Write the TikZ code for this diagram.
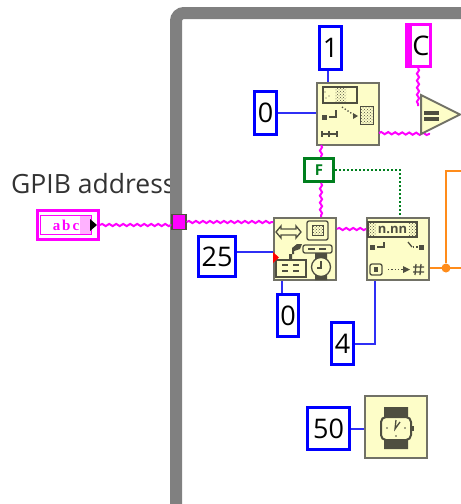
\documentclass[tikz,border=0pt]{standalone}
\usepackage{fontspec}
\setmainfont{Open Sans}
\newfontfamily\ctlfont{Liberation Serif}
\usetikzlibrary{decorations.pathmorphing,shapes.geometric,patterns}
\definecolor{iconbg}{HTML}{FDFDC8}
\definecolor{icondk}{HTML}{4E4E40}
\definecolor{framegray}{HTML}{808080}
\definecolor{wirepink}{HTML}{FF00FF}
\definecolor{wireblue}{HTML}{2F2FF5}
\definecolor{wireorange}{HTML}{FF8C1A}
\definecolor{boolgreen}{HTML}{007F1E}
\tikzset{
    numconst/.style={draw=blue,fill=white,line width=3.5pt,inner sep=0pt,font=\fontsize{27}{27}\selectfont},
    funcblock/.style={draw=icondk!80,fill=iconbg,line width=2pt,inner sep=0pt,minimum width=62pt,minimum height=62pt},
    strwire/.style={wirepink,line width=2pt,decorate,decoration={snake,amplitude=1.1pt,segment length=7pt}},
    numwire/.style={wireblue,line width=2pt},
    boolwire/.style={boolgreen,line width=2pt,dotted},
    orangewire/.style={wireorange,line width=2pt},
    icon/.style={icondk,line width=1.3pt},
    patch/.style={draw=icondk,pattern=crosshatch dots,pattern color=icondk,line width=1pt}
}
\begin{document}
\begin{tikzpicture}[x=1pt,y=-1pt]
    \useasboundingbox (0,0) rectangle (461,504);
    \clip (0,0) rectangle (461,504);
    \fill[white] (0,0) rectangle (461,504);

    \node[anchor=base west,inner sep=0pt,text=black!80,font=\fontsize{26.5}{27}\selectfont] (gpiblabel) at (11,193) {GPIB address};

    % structure frame
    \draw[framegray,line width=12pt,rounded corners=8pt] (461,13) -- (176,13) -- (176,504);

    % constants
    \node[numconst,minimum width=22pt,minimum height=43pt] (numone) at (330.5,48) {1};
    \node[numconst,minimum width=22pt,minimum height=43pt] (numzero) at (265.5,113) {0};
    \node[numconst,minimum width=37pt,minimum height=40pt] (numtf) at (217,256.5) {25};
    \node[numconst,minimum width=21pt,minimum height=42pt] (numlow) at (288,315.5) {0};
    \node[numconst,minimum width=22pt,minimum height=42pt] (numfour) at (342.5,343.5) {4};
    \node[numconst,minimum width=42pt,minimum height=42pt] (numfifty) at (328.5,428.5) {50};

    \node[draw=wirepink,fill=white,line width=3pt,inner sep=0pt,minimum width=24pt,minimum height=42pt] (strconst) at (418.5,45.5) {};
    \fill[wirepink] (405,24) rectangle (412,68);
    \node[inner sep=0pt,font=\fontsize{27}{27}\selectfont] (strtext) at (421,46) {C};

    % function blocks
    \node[funcblock] (match) at (347.5,114) {};
    \node[funcblock] (config) at (305,249) {};
    \node[funcblock] (scan) at (398,249) {};
    \node[funcblock] (wait) at (396,427) {};

    \node[draw=boolgreen,fill=white,line width=3pt,inner sep=0pt,minimum width=29pt,minimum height=23pt,text=boolgreen,font=\fontsize{15}{15}\selectfont\bfseries] (falseconst) at (319,170) {F};

    \node[draw=wirepink,fill=white,line width=3pt,inner sep=0pt,minimum width=61pt,minimum height=29pt] (control) at (68,225) {};
    \fill[wirepink!30] (80,216) rectangle (92,234);
    \node[draw=wirepink,line width=1.5pt,inner sep=0pt,minimum width=51pt,minimum height=19pt,text=wirepink,font=\fontsize{15}{15}\selectfont\ctlfont\bfseries] (ctltext) at (66,225) {a\hspace{2pt}b\hspace{2pt}c};
    \fill[black] (90,219) -- (97,225) -- (90,231) -- cycle;
    \node[draw=icondk,fill=wirepink,line width=1.5pt,inner sep=0pt,minimum width=14pt,minimum height=15pt] (tunnel) at (179,222) {};

    \coordinate (matchbottom) at (321,145);
    \coordinate (matchout) at (379,133);
    \coordinate (cmpin) at (430,134);
    \coordinate (cmptop) at (418,106);
    \coordinate (configtop) at (321,217);
    \coordinate (configin) at (273,222);
    \coordinate (configout) at (337,229);
    \coordinate (scanin) at (366,229);
    \coordinate (scantop) at (400,217);
    \coordinate (scanout) at (430,268);
    \coordinate (scanlow) at (375,281);
    \coordinate (edgeone) at (461,268);
    \coordinate (edgetwo) at (461,171);
    \coordinate (matchtop) at (328,82);
    \coordinate (configlow) at (282,281);
    \coordinate (redtip) at (273,252);

    % wires
    \draw[strwire] (control.east) -- (tunnel.west |- control.east);
    \draw[strwire] (tunnel.east) -- (configin);
    \draw[strwire] (configout) -- (scanin);
    \draw[strwire] (matchbottom) -- (falseconst.north -| matchbottom);
    \draw[strwire] (falseconst.south -| matchbottom) -- (configtop);
    \draw[strwire] (matchout) -- (cmpin);
    \draw[strwire] (strconst.south -| cmptop) -- (cmptop);
    \draw[numwire] (numone.south -| matchtop) -- (matchtop);
    \draw[numwire] (numzero.east) -- (match.west |- numzero.east);
    \draw[numwire] (numtf.east |- redtip) -- (redtip);
    \draw[numwire] (configlow) -- (numlow.north -| configlow);
    \draw[numwire] (numfour.east) -| (scanlow);
    \draw[numwire] (numfifty.east) -- (wait.west |- numfifty.east);
    \draw[boolwire] (falseconst.east) -| (scantop);
    \node[circle,fill=wireorange,inner sep=0pt,minimum size=9pt] (junction) at (446,268) {};
    \draw[orangewire] (scanout) -- (edgeone);
    \draw[orangewire] (edgetwo) -| (junction);

    \node[draw=icondk!80,fill=iconbg,line width=2pt,inner sep=0pt,isosceles triangle,isosceles triangle stretches,minimum width=39pt,minimum height=39pt,anchor=lower side] (compare) at (420,114.5) {};
    \fill[icondk] (424,111) rectangle (439,115);
    \fill[icondk] (424,117) rectangle (439,121);

    % match pattern icon
    \begin{scope}[shift={(316,82)}]
        \draw[icon,fill=iconbg] (7,5) rectangle (41,21);
        \fill[pattern=crosshatch dots,pattern color=icondk] (19,6) rectangle (30,20);
        \fill[icondk] (9,10) circle (.6) (13,14) circle (.6) (10,16) circle (.6);
        \fill[icondk] (6,33) rectangle (11,38);
        \draw[icon] (13,35) -| (20,28);
        \draw[icon,dotted] (26,25) -- (38,33);
        \fill[icondk] (37,31) -- (42,34) -- (37,37) -- cycle;
        \draw[patch] (44,24) rectangle (57,42);
        \draw[icon] (6,52) -- (21,52) (6,49) -- (6,55) (13,49) -- (13,55) (21,49) -- (21,55);
    \end{scope}

    % configure serial icon
    \begin{scope}[shift={(273,217)}]
        \draw[icon] (3,15) -- (8,9) -- (8,12) -- (23,12) -- (23,9) -- (28,15) -- (23,21) -- (23,18) -- (8,18) -- (8,21) -- cycle;
        \draw[icon,rounded corners=2pt] (34,4) rectangle (55,23);
        \draw[patch] (39,8) rectangle (50,18);
        \draw[icon,rounded corners=2pt] (30,28) rectangle (59,36);
        \draw[icon] (35,32) -- (42,32) (46,32) -- (53,32);
        \fill[icondk] (16,37) -- (16,42) -- (19,42) -- (19,31) -- (24,27) -- (29,27) -- (27,32) -- (21,34) -- (21,37) -- cycle;
        \draw[icon,fill=iconbg] (3,43) rectangle (33,60);
        \draw[icon] (9,48) -- (15,48) (20,48) -- (26,48) (9,54) -- (15,54) (20,54) -- (26,54);
        \fill[icondk] (42,36) rectangle (54,42) (42,58) rectangle (54,63);
        \draw[icon,fill=iconbg] (48,50) circle (9.5);
        \draw[icon] (48,44) -- (48,51) -- (44,51);
        \fill[red] (0,35) -- (6,40.5) -- (0,46) -- cycle;
    \end{scope}

    % scan from string icon
    \begin{scope}[shift={(366,217)}]
        \draw[icon,fill=iconbg] (2,5) rectangle (51,20);
        \fill[pattern=crosshatch dots,pattern color=icondk] (2,5) rectangle (10,20) (43,5) rectangle (51,20);
        \node[inner sep=0pt,text=icondk,font=\fontsize{13}{13}\selectfont\bfseries] (scantext) at (26.5,13) {n.nn};
        \fill[icondk] (4,28) rectangle (9,33);
        \draw[icon] (11,30) -| (18,25);
        \fill[icondk] (53,28) rectangle (58,33);
        \draw[icon] (42,25) -- (46,30);
        \draw[icon,dotted] (47,30) -- (52,30);
        \draw[icon,rounded corners=2pt] (4,47) rectangle (16,58);
        \fill[icondk] (8,50) rectangle (12,55);
        \draw[icon,dotted] (22,52.5) -- (38,52.5);
        \fill[icondk] (37,49) -- (44,52.5) -- (37,56) -- cycle;
        \draw[icon] (50,47) -- (49,58) (55,47) -- (54,58) (47,50) -- (58,50) (47,55) -- (58,55);
    \end{scope}

    % wait icon
    \begin{scope}[shift={(364,395)}]
        \fill[icondk] (20,12) rectangle (44,22) (20,45) rectangle (44,54);
        \draw[icondk,line width=2pt,fill=iconbg,rounded corners=5pt] (17,22) rectangle (47,45);
        \fill[icondk] (47,31) rectangle (50,36);
        \draw[icon] (32,25) -- (31,34) -- (36,27);
        \fill[icondk] (23,33) circle (.8) (41,33) circle (.8) (32,41) circle (.8);
    \end{scope}
\end{tikzpicture}
\end{document}
